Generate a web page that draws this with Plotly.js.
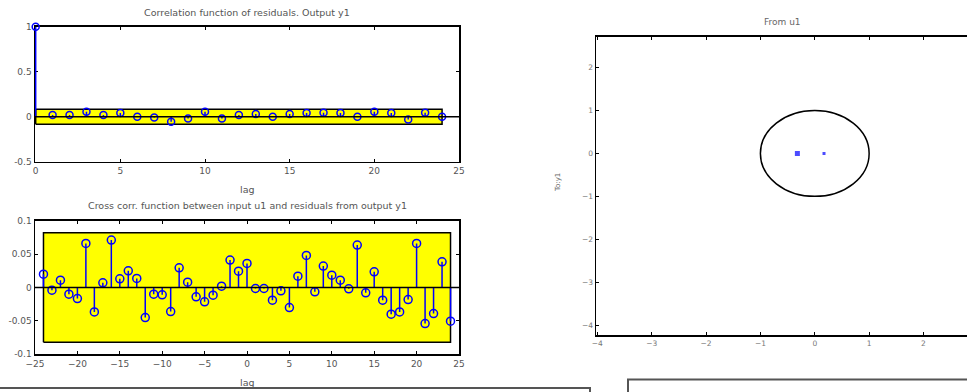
<!DOCTYPE html>
<html>
<head>
<meta charset="utf-8">
<script src="https://cdn.plot.ly/plotly-3.0.1.min.js"></script>
<style>html,body{margin:0;padding:0;background:#fff;}#chart{width:967px;height:392px;}</style>
</head>
<body>
<div id="chart"></div>
<script>
// ---- Data ----
const acfLags = [0,1,2,3,4,5,6,7,8,9,10,11,12,13,14,15,16,17,18,19,20,21,22,23,24];
const acfValues = [1.0,0.02,0.02,0.055,0.02,0.04,0.0,-0.01,-0.055,-0.02,0.055,-0.02,0.02,0.03,0.0,0.03,0.04,0.045,0.04,0.0,0.055,0.04,-0.03,0.045,0.0];
const acfConfidence = 0.083;

const ccfLags = [-24,-23,-22,-21,-20,-19,-18,-17,-16,-15,-14,-13,-12,-11,-10,-9,-8,-7,-6,-5,-4,-3,-2,-1,0,1,2,3,4,5,6,7,8,9,10,11,12,13,14,15,16,17,18,19,20,21,22,23,24];
const ccfValues = [0.02,-0.004,0.011,-0.01,-0.0165,0.066,-0.0365,0.007,0.071,0.013,0.025,0.0135,-0.045,-0.01,-0.011,-0.036,0.0295,0.008,-0.014,-0.0215,-0.0115,0.002,0.041,0.0245,0.036,-0.0015,-0.0015,-0.019,-0.005,-0.03,0.017,0.048,-0.0065,0.032,0.0185,0.011,-0.002,0.0635,-0.008,0.0235,-0.019,-0.04,-0.0365,-0.018,0.066,-0.054,-0.039,0.0385,-0.0505];
const ccfConfidence = 0.082;

const pzReal = [-0.32, 0.17];
const pzImag = [0, 0];
const unitRadius = 1;

const acfTicks = [0,5,10,15,20,25];
const acfYTicks = [-0.5,0,0.5,1];
const ccfTicks = [-25,-20,-15,-10,-5,0,5,10,15,20,25];
const ccfYTicks = [-0.1,-0.05,0,0.05,0.1];
const pzXTicks = [-4,-3,-2,-1,0,1,2];
const pzYTicks = [-4,-3,-2,-1,0,1,2];

// ---- Helpers ----
function stems(xs, ys){
  const sx=[], sy=[];
  xs.forEach((x,i)=>{ sx.push(x,x,null); sy.push(0,ys[i],null); });
  return {x:sx, y:sy};
}
function band(xs, c){
  const x0 = xs[0], x1 = xs[xs.length-1];
  return {x:[x0,x1,x1,x0,x0], y:[-c,-c,c,c,-c]};
}

const blue = '#0000ff';
const FAM = 'DejaVu Sans, Liberation Sans, Arial, sans-serif';
const tickFont = {family:FAM, size:9, color:'#555'};
const smallTickFont = {family:FAM, size:7.5, color:'#777'};
const titleFont = {family:FAM, size:9.5, color:'#555'};

const W=967, H=392;
const px = v => v/W;
const py = v => 1 - v/H;

const acfBand = band(acfLags, acfConfidence);
const ccfBand = band(ccfLags, ccfConfidence);
const acfStem = stems(acfLags, acfValues);
const ccfStem = stems(ccfLags, ccfValues);

const traces = [
  {x:acfBand.x, y:acfBand.y, xaxis:'x', yaxis:'y', mode:'lines', fill:'toself', fillcolor:'#ffff00', line:{color:'#000', width:1.5}, hoverinfo:'skip'},
  {x:acfStem.x, y:acfStem.y, xaxis:'x', yaxis:'y', mode:'lines', line:{color:blue, width:1.5}},
  {x:acfLags, y:acfValues, xaxis:'x', yaxis:'y', mode:'markers', cliponaxis:false, marker:{symbol:'circle-open', size:7, color:blue, line:{width:1.5, color:blue}}},

  {x:ccfBand.x, y:ccfBand.y, xaxis:'x2', yaxis:'y2', mode:'lines', fill:'toself', fillcolor:'#ffff00', line:{color:'#000', width:1.5}, hoverinfo:'skip'},
  {x:ccfStem.x, y:ccfStem.y, xaxis:'x2', yaxis:'y2', mode:'lines', line:{color:blue, width:1.5}},
  {x:ccfLags, y:ccfValues, xaxis:'x2', yaxis:'y2', mode:'markers', cliponaxis:false, marker:{symbol:'circle-open', size:8, color:blue, line:{width:1.5, color:blue}}},

  {x:pzReal, y:pzImag, xaxis:'x3', yaxis:'y3', mode:'markers', marker:{symbol:'square', size:[5,3], color:blue, line:{width:0}}}
];

function axBase(extra){
  return Object.assign({
    showline:true, linecolor:'#000', linewidth:1.5, mirror:'ticks',
    ticks:'inside', ticklen:3, tickwidth:1, tickcolor:'#000',
    showgrid:false, zeroline:false, tickfont:tickFont, tickmode:'array', fixedrange:true,
    layer:'below traces'
  }, extra);
}

const layout = {
  width:W, height:H, margin:{l:0,r:0,t:0,b:0},
  paper_bgcolor:'#fff', plot_bgcolor:'#fff', showlegend:false,
  xaxis: axBase({domain:[px(35), px(459)], range:[-0.04,25], anchor:'y', tickvals:acfTicks}),
  yaxis: axBase({domain:[py(161.7), py(26.7)], range:[-0.5,1.0], anchor:'x', tickvals:acfYTicks, ticktext:['-0.5','0','0.5','1']}),
  xaxis2: axBase({domain:[px(35), px(459)], range:[-25,25], anchor:'y2', tickvals:ccfTicks}),
  yaxis2: axBase({domain:[py(354.3), py(220.7)], range:[-0.1,0.1], anchor:'x2', tickvals:ccfYTicks, ticktext:['-0.1','-0.05','0','0.05','0.1']}),
  xaxis3: axBase({domain:[px(596), 1], range:[-4.024,2.80], anchor:'y3', tickvals:pzXTicks, tickfont:smallTickFont}),
  yaxis3: axBase({domain:[py(335), py(36.7)], range:[-4.23,2.72], anchor:'x3', mirror:false, tickvals:pzYTicks, tickfont:smallTickFont}),
  shapes: [
    {type:'line', xref:'x domain', yref:'y', x0:0, x1:1, y0:0, y1:0, line:{color:'#000', width:1.5}, layer:'above'},
    {type:'line', xref:'x2 domain', yref:'y2', x0:0, x1:1, y0:0, y1:0, line:{color:'#000', width:1.5}, layer:'above'},
    {type:'circle', xref:'x3', yref:'y3', x0:-unitRadius, x1:unitRadius, y0:-unitRadius, y1:unitRadius, line:{color:'#000', width:1.5}},
    {type:'rect', xref:'paper', yref:'paper', x0:px(-5), x1:px(590), y0:py(388), y1:py(420), line:{color:'#555', width:2}, fillcolor:'rgba(0,0,0,0)'},
    {type:'rect', xref:'paper', yref:'paper', x0:px(628), x1:px(1000), y0:py(379.5), y1:py(420), line:{color:'#555', width:2}, fillcolor:'rgba(0,0,0,0)'}
  ],
  annotations: [
    {text:'Correlation function of residuals. Output y1', xref:'paper', yref:'paper', x:px(247), y:py(12.5), xanchor:'center', yanchor:'middle', showarrow:false, font:titleFont},
    {text:'lag', xref:'paper', yref:'paper', x:px(247), y:py(189), xanchor:'center', yanchor:'middle', showarrow:false, font:titleFont},
    {text:'Cross corr. function between input u1 and residuals from output y1', xref:'paper', yref:'paper', x:px(247), y:py(205.5), xanchor:'center', yanchor:'middle', showarrow:false, font:titleFont},
    {text:'lag', xref:'paper', yref:'paper', x:px(247), y:py(382.5), xanchor:'center', yanchor:'middle', showarrow:false, font:titleFont},
    {text:'From u1', xref:'paper', yref:'paper', x:px(782), y:py(21.7), xanchor:'center', yanchor:'middle', showarrow:false, font:{family:FAM, size:9, color:'#666'}},
    {text:'To:y1', xref:'paper', yref:'paper', x:px(558), y:py(183), xanchor:'center', yanchor:'middle', textangle:-90, showarrow:false, font:{family:FAM, size:7, color:'#666'}}
  ]
};

Plotly.newPlot('chart', traces, layout, {displayModeBar:false, staticPlot:true});
</script>
</body>
</html>
